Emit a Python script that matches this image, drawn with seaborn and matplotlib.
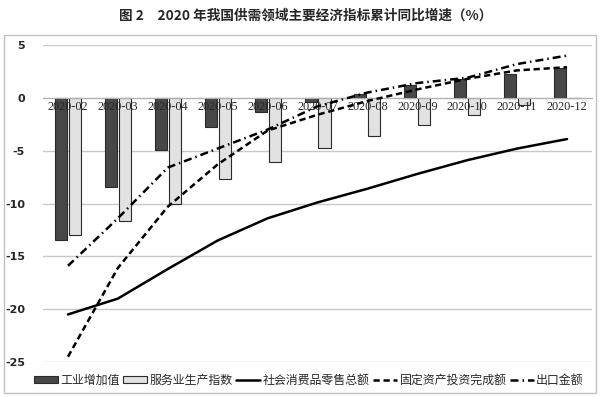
import numpy as np
import pandas as pd
import matplotlib
matplotlib.use('Agg')
import matplotlib.pyplot as plt
from matplotlib.patches import Patch, Rectangle
from matplotlib.lines import Line2D
import seaborn as sns

months = ['2020-02', '2020-03', '2020-04', '2020-05', '2020-06', '2020-07',
          '2020-08', '2020-09', '2020-10', '2020-11', '2020-12']
industry = [-13.5, -8.4, -4.9, -2.8, -1.3, -0.4, 0.4, 1.2, 1.8, 2.3, 2.8]
services = [-13.0, -11.7, -10.0, -7.7, -6.1, -4.7, -3.6, -2.6, -1.6, -0.7, 0.0]
retail = [-20.5, -19.0, -16.2, -13.5, -11.4, -9.9, -8.6, -7.2, -5.9, -4.8, -3.9]
fixed_inv = [-24.5, -16.1, -10.3, -6.3, -3.1, -1.6, -0.3, 0.8, 1.8, 2.6, 2.9]
exports = [-15.9, -11.4, -6.6, -4.8, -3.0, -0.8, 0.5, 1.4, 1.9, 3.2, 4.0]

names = ['工业增加值', '服务业生产指数', '社会消费品零售总额', '固定资产投资完成额', '出口金额']
yticks = [5, 0, -5, -10, -15, -20, -25]

sns.set_style('white')
plt.rcParams['font.family'] = ['Noto Sans CJK SC', 'DejaVu Sans']

idx = np.arange(len(months))
bars = pd.DataFrame({
    'idx': np.concatenate([idx, idx]),
    'value': industry + services,
    'series': [names[0]] * len(idx) + [names[1]] * len(idx),
})

fig = plt.figure(figsize=(6, 3.97), dpi=100)
ax = fig.add_axes([0.0717, 0.0882, 0.915, 0.7984])
ax.set_axisbelow(False)

for t in yticks:
    ax.axhline(t, color='#c8c8c8', lw=1.0, zorder=0)

sns.barplot(data=bars, x='idx', y='value', hue='series', hue_order=names[:2],
            palette=['#474747', '#e2e2e2'], width=0.56, gap=0.14,
            edgecolor='#2a2a2a', linewidth=0.8, legend=False, ax=ax, zorder=1)

sns.lineplot(x=idx, y=retail, color='black', lw=1.8, ax=ax, zorder=3)
sns.lineplot(x=idx, y=fixed_inv, color='black', lw=1.8,
             linestyle=(0, (2.5, 1.5)), ax=ax, zorder=3)
sns.lineplot(x=idx, y=exports, color='black', lw=1.8,
             linestyle=(0, (3.2, 1.6, 0.6, 1.6)), ax=ax, zorder=3)

ax.set_xlim(-0.5, len(months) - 0.5)
ax.set_ylim(-25, 5)
ax.set_yticks(yticks)
ax.set_yticklabels([str(t) for t in yticks])
ax.tick_params(axis='y', length=0, pad=13)
ax.set_xticks(idx)
ax.set_xticklabels(months)
ax.set_xticks(np.arange(-0.5, len(months)), minor=True)
ax.tick_params(axis='x', which='major', length=0, pad=2)
ax.tick_params(axis='x', which='minor', length=3, color='#999999', direction='out')
ax.set_xlabel('')
ax.set_ylabel('')

for s in ['top', 'right', 'left']:
    ax.spines[s].set_visible(False)
ax.spines['bottom'].set_position(('data', 0))
ax.spines['bottom'].set_color('#b0b0b0')

fig.patches.append(Rectangle((0.007, 0.01), 0.986, 0.902, transform=fig.transFigure,
                             fill=False, edgecolor='#c0c0c0', lw=1.0))

fig.text(0.51, 0.962, '图 2　2020 年我国供需领域主要经济指标累计同比增速（%）',
         ha='center', va='center', fontsize=9.8, fontweight='bold')

handles = [
    Patch(facecolor='#474747', edgecolor='#2a2a2a', lw=0.8),
    Patch(facecolor='#e2e2e2', edgecolor='#2a2a2a', lw=0.8),
    Line2D([], [], color='black', lw=1.8),
    Line2D([], [], color='black', lw=1.8, linestyle=(0, (2.5, 1.5))),
    Line2D([], [], color='black', lw=1.8, linestyle=(0, (3.2, 1.6, 0.6, 1.6))),
]
fig.legend(handles, names, loc='center', bbox_to_anchor=(0.515, 0.043), ncol=5,
           frameon=False, fontsize=8.6, handlelength=2.0, handleheight=0.5,
           handletextpad=0.2, columnspacing=0.3)

# fonts for tick labels set last so nothing resets them
fig.canvas.draw()
for lab in ax.get_xticklabels():
    lab.set_family(['Liberation Serif'])
    lab.set_fontsize(8.8)
for lab in ax.get_yticklabels():
    lab.set_family(['DejaVu Sans'])
    lab.set_fontsize(8)
    lab.set_fontweight('bold')

fig.savefig('out.png', dpi=100)
